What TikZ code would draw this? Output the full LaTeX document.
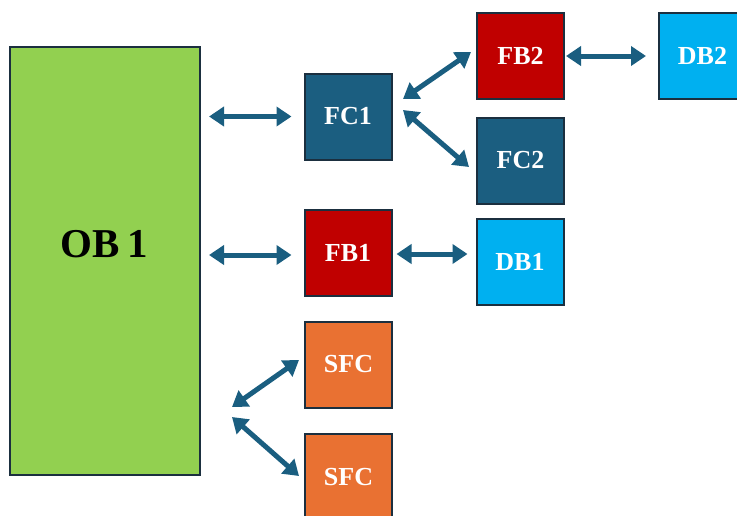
\documentclass[tikz,border=0pt]{standalone}
\usepackage{fontspec}
\setmainfont{Liberation Serif}
\usetikzlibrary{arrows.meta}
\definecolor{obgreen}{HTML}{92D050}
\definecolor{fcblue}{HTML}{1B5E80}
\definecolor{fbred}{HTML}{C00000}
\definecolor{dbcyan}{HTML}{00B0F0}
\definecolor{sfcorange}{HTML}{E97132}
\definecolor{boxline}{HTML}{1B2F3F}
\definecolor{arrowcol}{HTML}{1A5E80}
\tikzset{
  blk/.style={draw=boxline, line width=2pt, minimum width=87pt, minimum height=86pt,
    inner sep=0pt, text=white, font=\bfseries\fontsize{26}{30}\selectfont},
  link/.style={arrowcol, line width=5pt,
    {Triangle[length=15pt,width=19pt]}-{Triangle[length=15pt,width=19pt]}}
}
\begin{document}
\begin{tikzpicture}[x=1pt,y=-1pt]
\useasboundingbox (0,0) rectangle (737,515);
\clip (0,0) rectangle (737,515);
\node[draw=boxline, line width=2pt, fill=obgreen, minimum width=190pt, minimum height=428pt,
  inner sep=0pt] (OB1) at (105,261) {};
\node[inner sep=0pt, font=\bfseries\fontsize{41}{48}\selectfont] (OBtext) at (104,244) {OB\hspace{0.18em}1};
\node[blk, fill=fcblue] (FC1) at (348,116.5) {FC1};
\node[blk, fill=fbred] (FB2) at (520.5,56) {FB2};
\node[blk, fill=dbcyan] (DB2) at (702.5,56) {DB2};
\node[blk, fill=fcblue] (FC2) at (520.5,160.5) {FC2};
\node[blk, fill=fbred] (FB1) at (348,253) {FB1};
\node[blk, fill=dbcyan] (DB1) at (520,262) {DB1};
\node[blk, fill=sfcorange] (SFC1) at (348.5,364.5) {SFC};
\node[blk, fill=sfcorange] (SFC2) at (348.5,477) {SFC};
% horizontal links
\draw[link, shorten <=8pt, shorten >=12pt] (OB1.east |- FC1) -- (FC1.west);
\draw[link, shorten <=8pt, shorten >=12pt] (OB1.east |- 0,255) -- (FB1.west |- 0,255);
\draw[link, shorten <=4pt, shorten >=8pt] (FB1.east |- 0,254) -- (DB1.west |- 0,254);
\draw[link, shorten <=1pt, shorten >=12pt] (FB2.east) -- (DB2.west);
% diagonal links
\coordinate (fc1u) at (403,99);
\coordinate (fb2l) at (471,52);
\coordinate (fc1d) at (403,110);
\coordinate (fc2l) at (469,167);
\coordinate (obs1) at (232,407);
\coordinate (obs2) at (232,417);
\coordinate (sfc1l) at (299,360);
\coordinate (sfc2l) at (299,476);
\draw[link] (fc1u) -- (fb2l);
\draw[link] (fc1d) -- (fc2l);
\draw[link] (obs1) -- (sfc1l);
\draw[link] (obs2) -- (sfc2l);
\end{tikzpicture}
\end{document}
